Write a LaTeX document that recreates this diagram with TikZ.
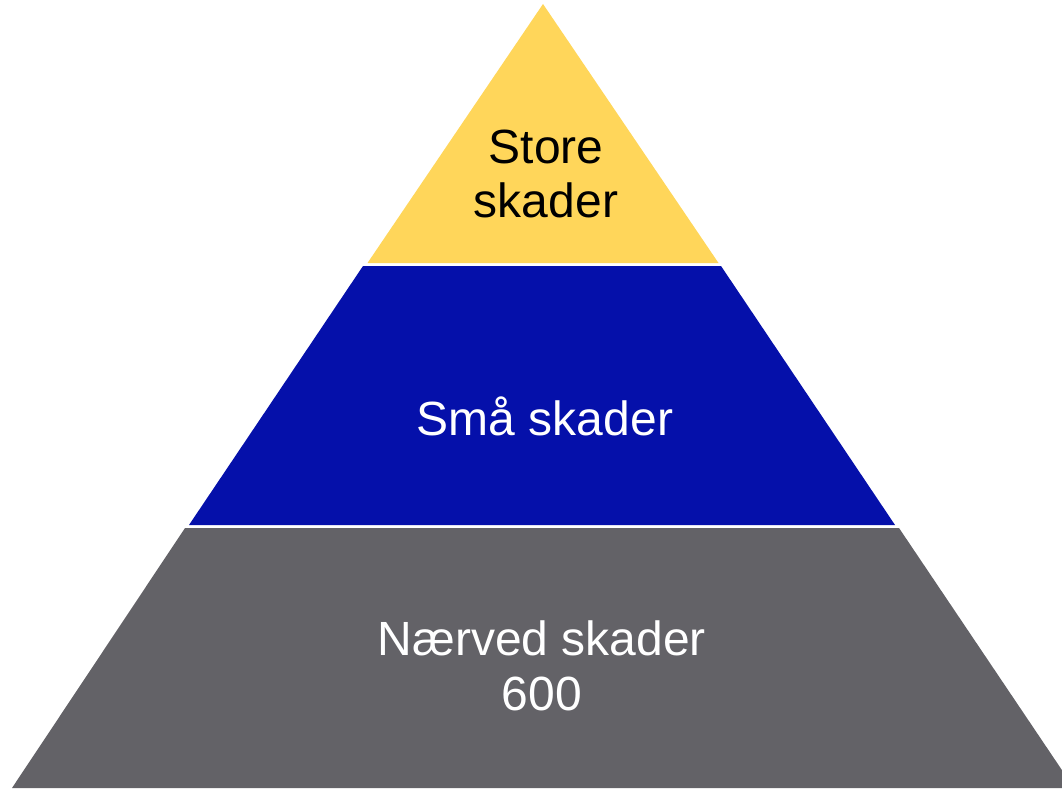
\documentclass[tikz,border=0pt]{standalone}
\usepackage{fontspec}
\setmainfont{Liberation Sans}
\usepackage{tikz}

\definecolor{topyellow}{RGB}{255,214,90}
\definecolor{midblue}{RGB}{5,16,170}
\definecolor{lowgray}{RGB}{99,98,103}

\tikzset{
    label/.style={align=center,font=\fontsize{36}{41}\selectfont},
}

\begin{document}
\begin{tikzpicture}[x=0.75pt,y=-0.75pt]
        \useasboundingbox (0,0) rectangle (1062,788);
        \clip (0,0) rectangle (1062,788);

        \fill[topyellow] (543,4) -- (718.5,263) -- (367.5,263) -- cycle;
        \fill[midblue]   (363,266) -- (721,266) -- (895,525) -- (189,525) -- cycle;
        \fill[lowgray]   (185,528) -- (899,528) -- (1074,788) -- (12,788) -- cycle;

        \node[label,text=black] (store) at (546,174) {Store\\skader};
        \node[label,text=white] (smaa)  at (545,416) {Små skader};
        \node[label,text=white] (naer)  at (542,666) {Nærved skader\\600};
    \end{tikzpicture}
\end{document}
